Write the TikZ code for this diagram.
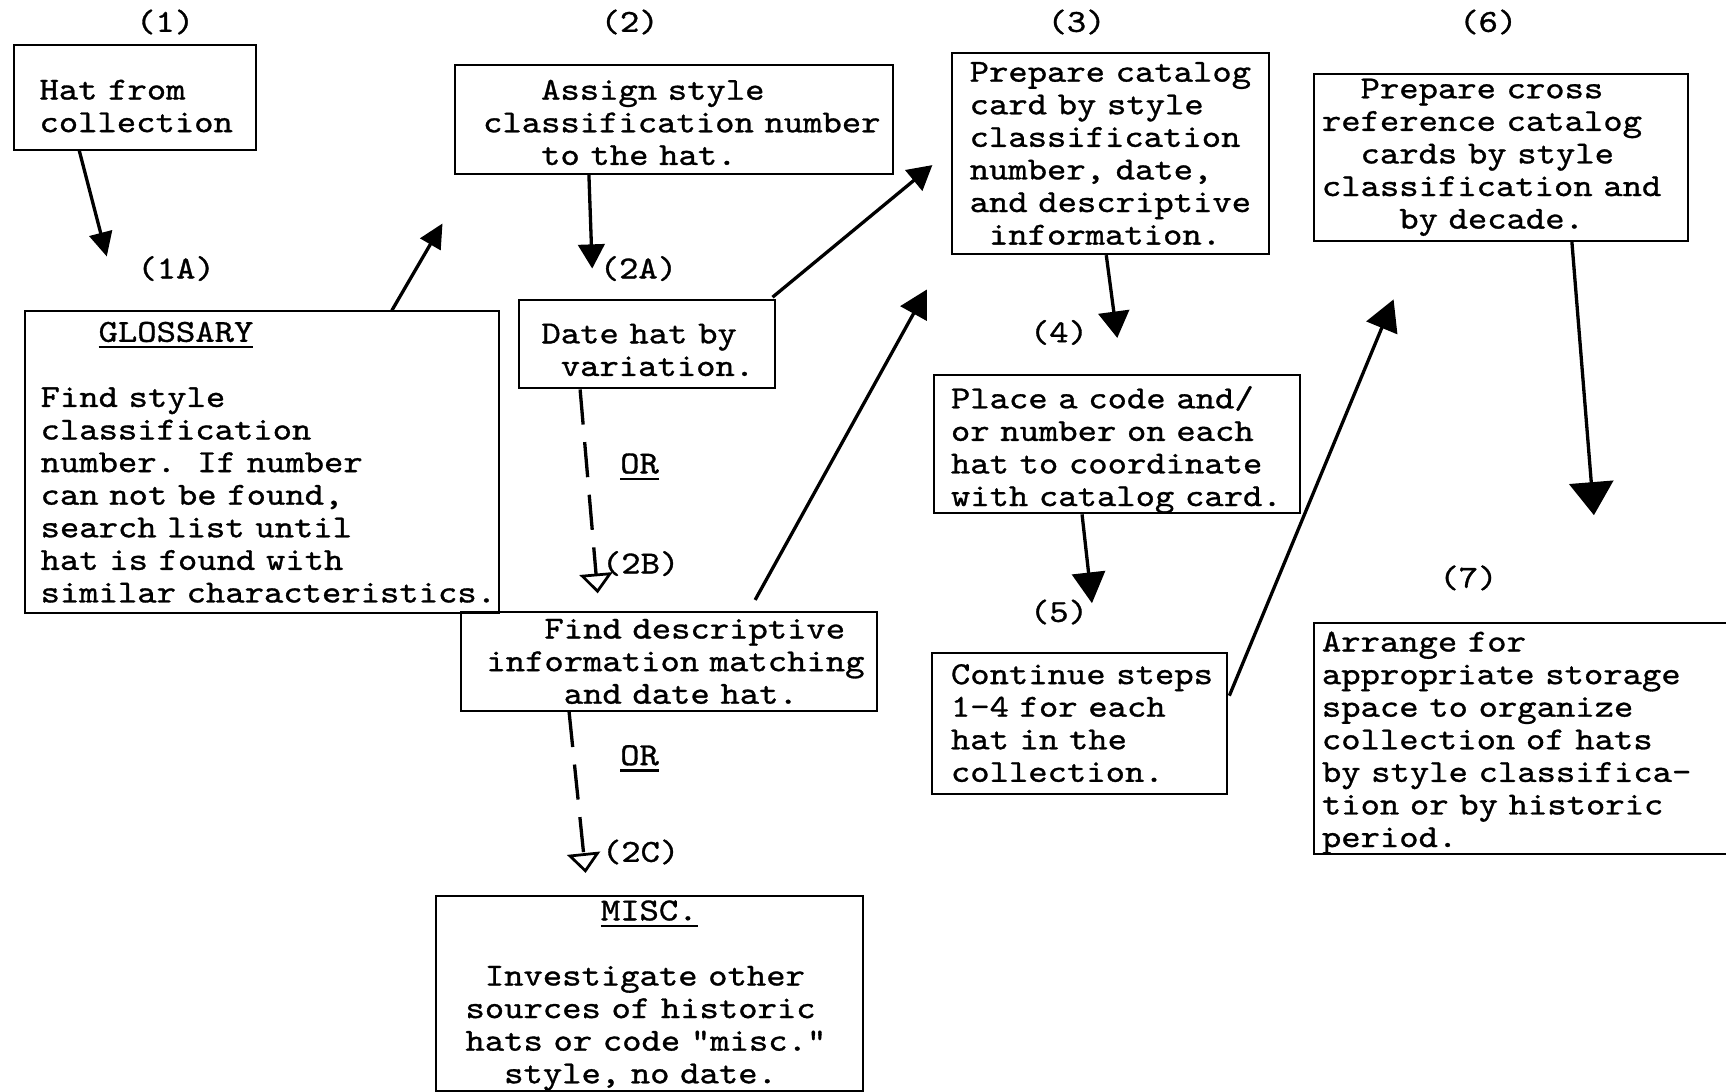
\documentclass[tikz,border=0pt]{standalone}
\usepackage{fontspec}
\newfontfamily\tw[FakeStretch=1.15,FakeBold=1]{lmmono10-regular.otf}
\usetikzlibrary{arrows.meta,calc}
\newdimen\chw \chw=17.57pt
\newcommand\ind[1]{\hspace*{#1\chw}}
\newcommand\ulin[1]{\setbox0\hbox{#1}\rlap{\rule[-6pt]{\wd0}{2.2pt}}\box0}
\newcommand\tall[1]{\rule{0pt}{#1pt}}
\newcommand\twf{\tw\fontsize{29.1}{29.6}\selectfont\hyphenpenalty=10000\exhyphenpenalty=10000\hbadness=10000\hfuzz=200pt}
\tikzset{
  box/.style={draw, line width=1.8pt, align=left, inner ysep=0pt, anchor=north west, font=\twf},
  lab/.style={inner sep=0pt, font=\twf},
  arr/.style={line width=3pt},
  darr/.style={line width=3pt, dash pattern=on 32pt off 16pt, -{Triangle[open,length=18pt,width=30pt,line width=2.5pt]}},
}
\begin{document}
\begin{tikzpicture}[x=1pt,y=-1pt]
\path[use as bounding box, fill=white] (0,0) rectangle (1568,992);

% step labels
\node[lab] (l1)  at (150,20) {(1)};
\node[lab] (l2)  at (572,20) {(2)};
\node[lab] (l3)  at (978,20) {(3)};
\node[lab] (l6)  at (1352,20) {(6)};
\node[lab] (l1a) at (160,244) {(1A)};
\node[lab] (l2a) at (580,244) {(2A)};
\node[lab] (l2b) at (582,512) {(2B)};
\node[lab] (l2c) at (582,774) {(2C)};
\node[lab] (l4)  at (962,302) {(4)};
\node[lab] (l5)  at (962,556) {(5)};
\node[lab] (l7)  at (1334,525) {(7)};
\node[lab] (or1) at (581,424) {\ulin{OR}};
\node[lab] (or2) at (581,689) {\ulin{OR}};

% boxes
\node[box, minimum width=220pt, minimum height=95pt, text width=174pt, inner xsep=23pt] (b1) at (12,40)
  {\tall{33.8}Hat~from\\collection};
\node[box, minimum width=398pt, minimum height=99pt, text width=346pt, inner xsep=26pt] (b2) at (412,58)
  {\tall{23.8}\ind{3}Assign~style\\classification~number\\\ind{3}to~the~hat.};
\node[box, minimum width=288pt, minimum height=183pt, text width=256pt, inner xsep=16pt] (b3) at (864,47)
  {Prepare~catalog\\card~by~style\\classification\\number,~date,\\and~descriptive\\\ind{1}information.};
\node[box, minimum width=340pt, minimum height=152pt, text width=326pt, inner xsep=7pt] (b6) at (1193,66)
  {\ind{2}Prepare~cross\\reference~catalog\\\ind{2}cards~by~style\\classification~and\\\ind{4}by~decade.};
\node[box, minimum width=430pt, minimum height=274pt, text width=402pt, inner xsep=14pt] (gl) at (22,282)
  {\ind{3}\ulin{GLOSSARY}\\\mbox{}\\Find~style\\classification\\number.~~If~number\\can~not~be~found,\\search~list~until\\hat~is~found~with\\similar~characteristics.};
\node[box, minimum width=232pt, minimum height=80pt, text width=192pt, inner xsep=20pt] (b2a) at (471,272)
  {\tall{27.8}Date~hat~by\\\ind{1}variation.};
\node[box, minimum width=378pt, minimum height=90pt, text width=332pt, inner xsep=23pt] (b2b) at (418,555)
  {\ind{3}Find~descriptive\\information~matching\\\ind{4}and~date~hat.};
\node[box, minimum width=388pt, minimum height=177pt, text width=334pt, inner xsep=27pt] (misc) at (395,813)
  {\tall{22}\ind{7}\ulin{MISC.}\\\mbox{}\\\ind{1}Investigate~other\\sources~of~historic\\hats~or~code~"misc."\\\ind{2}style,~no~date.};
\node[box, minimum width=332pt, minimum height=125pt, text width=302pt, inner xsep=15pt] (b4) at (848,340)
  {\tall{30}Place~a~code~and/\\or~number~on~each\\hat~to~coordinate\\with~catalog~card.};
\node[box, minimum width=268pt, minimum height=128pt, text width=234pt, inner xsep=17pt] (b5) at (846,592)
  {Continue~steps\\1-4~for~each\\hat~in~the\\collection.};
\node[box, minimum width=400pt, minimum height=210pt, text width=386pt, inner xsep=7pt] (b7) at (1193,565)
  {\tall{26}Arrange~for\\appropriate~storage\\space~to~organize\\collection~of~hats\\by~style~classifica-\\tion~or~by~historic\\period.};

% free ends of connectors
\coordinate (e1) at (97,233);
\coordinate (e2) at (402,203);
\coordinate (e3) at (538,244);
\coordinate (e4) at (847,150);
\coordinate (e5) at (842,263);
\coordinate (e6) at (1015,307);
\coordinate (e7) at (992,548);
\coordinate (e8) at (1266,272);
\coordinate (e9) at (1448,468);
\coordinate (e10) at (543,539);
\coordinate (e11) at (532,793);

% connectors
\draw[arr, -{Triangle[length=22pt,width=21pt]}] ($(b1.south west)+(60,0)$) -- (e1);
\draw[arr, -{Triangle[length=22pt,width=21pt]}] ($(gl.north west)+(334,0)$) -- (e2);
\draw[arr, -{Triangle[length=22pt,width=24pt]}] ($(b2.south west)+(123,0)$) -- (e3);
\draw[arr, -{Triangle[length=22pt,width=24pt]}] ($(b2a.north east)+(-3,-2)$) -- (e4);
\draw[arr, -{Triangle[length=25pt,width=27pt]}] ($(b2b.north west)+(268,-10)$) -- (e5);
\draw[arr, -{Triangle[length=24pt,width=28pt]}] ($(b3.south west)+(141,0)$) -- (e6);
\draw[arr, -{Triangle[length=28pt,width=30pt]}] ($(b4.south west)+(135,0)$) -- (e7);
\draw[arr, -{Triangle[length=28pt,width=30pt]}] ($(b5.north east)+(1,40)$) -- (e8);
\draw[arr, -{Triangle[length=30pt,width=40pt]}] ($(b6.south west)+(235,0)$) -- (e9);
\draw[darr] ($(b2a.south west)+(56,0)$) -- (e10);
\draw[darr] ($(b2b.south west)+(99,0)$) -- (e11);
\end{tikzpicture}
\end{document}
